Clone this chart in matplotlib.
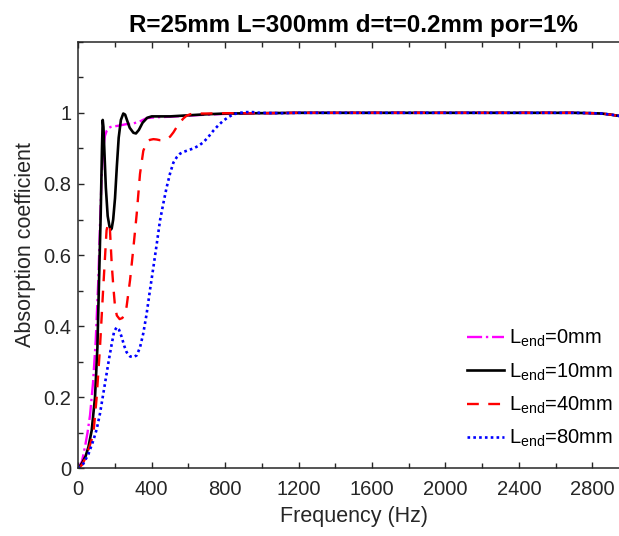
import matplotlib
matplotlib.use("Agg")
import matplotlib.pyplot as plt
from matplotlib.ticker import MultipleLocator

plt.rcParams['font.family'] = ['Liberation Sans', 'DejaVu Sans']
plt.rcParams['mathtext.default'] = 'regular'

# values
tail_f = [1200, 1600, 2000, 2400, 2700, 2800, 2850, 2900, 2950, 3000]
tail_a = [1.0, 1.0, 1.0, 1.0, 1.0, 0.999, 0.998, 0.995, 0.991, 0.987]

f_0mm = [0, 20, 36, 50, 64, 80, 95, 109, 118, 127, 136, 145, 155, 165, 175, 190,
         210, 230, 260, 300, 340, 372, 410, 450, 500, 600, 700, 800, 1000]
a_0mm = [0, 0.02, 0.06, 0.10, 0.15, 0.24, 0.36, 0.53, 0.68, 0.82, 0.90, 0.935,
         0.95, 0.957, 0.96, 0.962, 0.963, 0.965, 0.968, 0.97, 0.977, 0.985, 0.987,
         0.988, 0.989, 0.992, 0.995, 0.997, 0.999]

f_10mm = [0, 20, 40, 55, 73, 91, 104, 113, 122, 129, 133, 137, 143, 150, 160, 170,
          178, 182, 190, 200, 210, 220, 232, 245, 255, 265, 280, 300, 314, 330, 350,
          375, 400, 450, 500, 600, 700, 800, 1000]
a_10mm = [0, 0.015, 0.035, 0.06, 0.107, 0.2, 0.34, 0.53, 0.715, 0.9, 0.98, 0.96,
          0.88, 0.79, 0.71, 0.68, 0.672, 0.675, 0.70, 0.76, 0.85, 0.93, 0.98, 0.998,
          0.995, 0.98, 0.958, 0.944, 0.942, 0.952, 0.972, 0.986, 0.99, 0.99, 0.99,
          0.993, 0.996, 0.998, 0.999]

f_40mm = [0, 20, 40, 60, 82, 100, 118, 136, 154, 163, 172, 182, 191, 200, 210, 225,
          240, 252, 263, 282, 300, 318, 336, 354, 372, 390, 409, 427, 445, 463, 481,
          500, 518, 536, 554, 572, 590, 610, 627, 700, 800, 1000]
a_40mm = [0, 0.01, 0.03, 0.06, 0.097, 0.2, 0.34, 0.51, 0.67, 0.69, 0.675, 0.575,
          0.51, 0.455, 0.43, 0.42, 0.423, 0.435, 0.455, 0.53, 0.62, 0.715, 0.828,
          0.893, 0.917, 0.924, 0.926, 0.925, 0.923, 0.923, 0.926, 0.933, 0.945, 0.96,
          0.973, 0.984, 0.992, 0.996, 0.998, 0.998, 0.999, 0.999]

f_80mm = [0, 27, 55, 82, 100, 118, 136, 154, 168, 182, 195, 209, 222, 236, 250, 263,
          282, 300, 318, 336, 354, 372, 390, 409, 427, 445, 463, 481, 500, 518, 536,
          554, 572, 600, 627, 654, 681, 708, 736, 763, 790, 818, 845, 880, 917, 950,
          990, 1100]
a_80mm = [0, 0.013, 0.04, 0.079, 0.11, 0.154, 0.21, 0.266, 0.31, 0.35, 0.385, 0.397,
          0.39, 0.37, 0.345, 0.327, 0.315, 0.313, 0.318, 0.34, 0.38, 0.434, 0.5, 0.566,
          0.63, 0.697, 0.745, 0.79, 0.83, 0.86, 0.875, 0.885, 0.89, 0.895, 0.9, 0.907,
          0.917, 0.932, 0.95, 0.965, 0.978, 0.988, 0.996, 1.0, 1.002, 1.002, 1.0, 0.999]

labels = ['L$_{end}$=0mm', 'L$_{end}$=10mm', 'L$_{end}$=40mm', 'L$_{end}$=80mm']

fig = plt.figure(figsize=(6.19, 5.36), dpi=100)
ax = fig.add_axes([0.1265, 0.126, 0.8897, 0.7962])

ax.plot(f_0mm + tail_f, a_0mm + tail_a, color='#ff00ff', ls='-.', lw=1.7, label=labels[0])
ax.plot(f_10mm + tail_f, a_10mm + tail_a, color='black', ls='-', lw=1.9, label=labels[1])
ax.plot(f_40mm + tail_f, a_40mm + tail_a, color='red', ls=(0, (5, 4)), lw=1.7, label=labels[2])
ax.plot(f_80mm + tail_f, a_80mm + tail_a, color='blue', ls=(0, (1, 1.2)), lw=1.9, label=labels[3])

ax.set_xlim(0, 3000)
ax.set_ylim(0, 1.2)
ax.set_xticks([0, 400, 800, 1200, 1600, 2000, 2400, 2800])
ax.set_yticks([0, 0.2, 0.4, 0.6, 0.8, 1.0])
ax.set_yticklabels(['0', '0.2', '0.4', '0.6', '0.8', '1'])
ax.xaxis.set_minor_locator(MultipleLocator(200))
ax.yaxis.set_minor_locator(MultipleLocator(0.1))

c = '#262626'
for s in ax.spines.values():
    s.set_color(c)
    s.set_linewidth(1.1)
ax.tick_params(which='both', direction='in', top=True, right=False, colors=c,
               labelsize=14.5, width=1.0)
ax.tick_params(axis='x', which='both', pad=8)
ax.tick_params(axis='y', which='both', pad=5)
ax.tick_params(which='major', length=4.5)
ax.tick_params(which='minor', length=3.5)

ax.set_xlabel('Frequency (Hz)', fontsize=15.5, color=c, labelpad=5)
ax.set_ylabel('Absorption coefficient', fontsize=15.5, color=c, labelpad=4)
ax.yaxis.set_label_coords(-0.076, 0.524)
ax.set_title('R=25mm L=300mm d=t=0.2mm por=1%', fontsize=17.4, fontweight='bold',
             pad=7)

ax.legend(loc='upper left', bbox_to_anchor=(467 / 619, 1 - 328 / 536),
          bbox_transform=fig.transFigure, frameon=False, fontsize=14.5,
          handlelength=1.85, handletextpad=0.25, labelspacing=0.6, borderpad=0,
          borderaxespad=0)

fig.savefig('out.png', dpi=100)
